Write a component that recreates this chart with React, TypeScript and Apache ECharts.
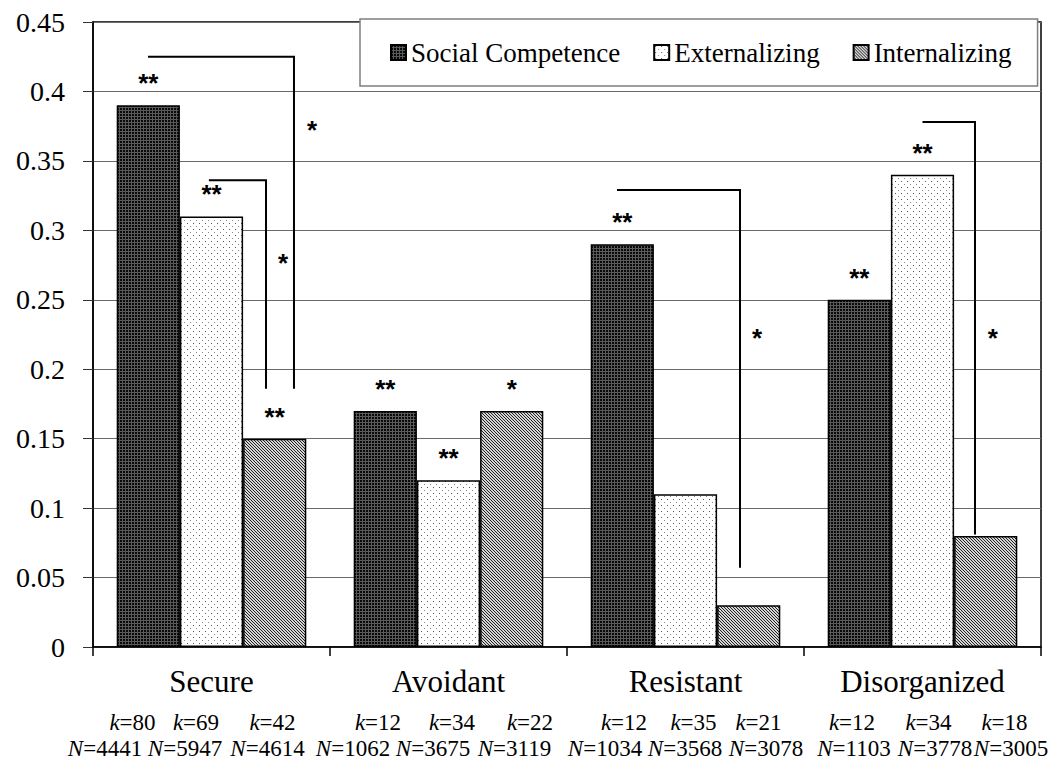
import React, { useEffect, useRef } from "react";
import * as echarts from "echarts";

// ---------- data ----------
const categories = ["Secure", "Avoidant", "Resistant", "Disorganized"];
const seriesNames = ["Social Competence", "Externalizing", "Internalizing"];

const socialCompetence = [0.39, 0.17, 0.29, 0.25];
const externalizing = [0.31, 0.12, 0.11, 0.34];
const internalizing = [0.15, 0.17, 0.03, 0.08];

const socialStars = ["**", "**", "**", "**"];
const externalStars = ["**", "**", "", "**"];
const internalStars = ["**", "*", "", ""];

const socialK = [80, 12, 12, 12];
const externalK = [69, 34, 35, 34];
const internalK = [42, 22, 21, 18];
const socialN = [4441, 1062, 1034, 1103];
const externalN = [5947, 3675, 3568, 3778];
const internalN = [4614, 3119, 3078, 3005];

const yMin = 0;
const yMax = 0.45;
const yInterval = 0.05;

// significance brackets: [category, start (band fraction), end (band fraction), top value, bottom value, mark, mark x (band fraction), mark value]
const brackets: [number, number, number, number, number, string, number, number][] = [
  [0, -0.268, 0.348, 0.425, 0.186, "*", 0.424, 0.376],
  [0, -0.011, 0.23, 0.336, 0.186, "*", 0.302, 0.28],
  [2, -0.289, 0.23, 0.329, 0.057, "*", 0.302, 0.226],
  [3, 0.0, 0.2215, 0.378, 0.081, "*", 0.297, 0.226],
];

// ---------- layout / style ----------
const kOffsets = [
  [-79, -15.5, 61],
  [-70.5, 3.5, 81.5],
  [-61.5, 8, 73],
  [-70.5, 6, 82],
];
const nOffsets = [
  [-106.5, -26.5, 56],
  [-95.5, -15.5, 66],
  [-80.5, -0.5, 80.5],
  [-68.5, 12.5, 88.5],
];

const SERIF = "Liberation Serif";
const SANS = "Liberation Sans";

function makePattern(w: number, h: number, draw: (ctx: CanvasRenderingContext2D) => void) {
  const c = document.createElement("canvas");
  c.width = w;
  c.height = h;
  const ctx = c.getContext("2d") as CanvasRenderingContext2D;
  draw(ctx);
  return { image: c, repeat: "repeat" };
}

export default function App() {
  const ref = useRef<HTMLDivElement>(null);

  useEffect(() => {
    if (!ref.current) return;
    const chart = echarts.init(ref.current, null, { renderer: "svg" });

    const darkPattern = makePattern(3, 3, (ctx) => {
      ctx.fillStyle = "#5a5a5a";
      ctx.fillRect(0, 0, 3, 3);
      ctx.fillStyle = "#0a0a0a";
      ctx.fillRect(0, 0, 2, 2);
    });
    const dotPattern = makePattern(6, 6, (ctx) => {
      ctx.fillStyle = "#ffffff";
      ctx.fillRect(0, 0, 6, 6);
      ctx.fillStyle = "#555555";
      ctx.fillRect(1, 1, 1, 1);
      ctx.fillStyle = "#888888";
      ctx.fillRect(4, 4, 1, 1);
    });
    const hatchPattern = makePattern(3, 3, (ctx) => {
      ctx.fillStyle = "#d4d4d4";
      ctx.fillRect(0, 0, 3, 3);
      ctx.fillStyle = "#222222";
      for (let y = 0; y < 3; y++) {
        ctx.fillRect(y % 3, y, 1, 1);
      }
    });

    const values = [socialCompetence, externalizing, internalizing];
    const stars = [socialStars, externalStars, internalStars];
    const kVals = [socialK, externalK, internalK];
    const nVals = [socialN, externalN, internalN];
    const fills = [darkPattern, dotPattern, hatchPattern];

    const barSeries = values.map((vals, s) => ({
      name: seriesNames[s],
      type: "bar",
      data: vals,
      barGap: "0%",
      barCategoryGap: "20%",
      itemStyle: {
        color: fills[s],
        borderColor: "#000",
        borderWidth: 1.5,
      },
      emphasis: { disabled: true },
      label: {
        show: true,
        position: "top",
        distance: 9,
        formatter: (p: any) => stars[s][p.dataIndex],
        fontFamily: SANS,
        fontWeight: "bold",
        fontSize: 26,
        color: "#000",
      },
      z: 2,
    }));

    const italic = { fontFamily: SERIF, fontSize: 23, fontStyle: "italic", fill: "#000" };
    const upright = { fontFamily: SERIF, fontSize: 23, fill: "#000" };

    const annotationSeries = {
      type: "custom",
      name: "annotations",
      silent: true,
      clip: false,
      z: 5,
      data: categories.map((_, i) => [i, 0]),
      encode: { x: 0, y: 1 },
      renderItem: (params: any, api: any) => {
        const cat = api.value(0);
        const base = api.coord([cat, 0]);
        const band = api.size([1, 0])[0];
        const children: any[] = [];
        for (let s = 0; s < 3; s++) {
          children.push({
            type: "text",
            style: {
              text: `{i|k}{r|=${kVals[s][cat]}}`,
              x: base[0] + kOffsets[cat][s],
              y: base[1] + 75,
              align: "center",
              verticalAlign: "middle",
              rich: { i: italic, r: upright },
            },
          });
          children.push({
            type: "text",
            style: {
              text: `{i|N}{r|=${nVals[s][cat]}}`,
              x: base[0] + nOffsets[cat][s],
              y: base[1] + 101,
              align: "center",
              verticalAlign: "middle",
              rich: { i: italic, r: upright },
            },
          });
        }
        brackets
          .filter((b) => b[0] === cat)
          .forEach((b) => {
            const x1 = base[0] + b[1] * band;
            const x2 = base[0] + b[2] * band;
            const yTop = api.coord([cat, b[3]])[1];
            const yBot = api.coord([cat, b[4]])[1];
            children.push({
              type: "polyline",
              shape: { points: [[x1, yTop], [x2, yTop], [x2, yBot]] },
              style: { stroke: "#000", lineWidth: 2, fill: "none" },
            });
            children.push({
              type: "text",
              style: {
                text: b[5],
                x: base[0] + b[6] * band,
                y: api.coord([cat, b[7]])[1] + 5,
                align: "center",
                verticalAlign: "middle",
                fontFamily: SANS,
                fontWeight: "bold",
                fontSize: 26,
                fill: "#000",
              },
            });
          });
        return { type: "group", children };
      },
    };

    chart.setOption({
      animation: false,
      backgroundColor: "#fff",
      textStyle: { fontFamily: SERIF },
      grid: {
        left: 93,
        right: 19,
        top: 22,
        bottom: 114,
        show: true,
        borderColor: "#000",
        borderWidth: 1.5,
        backgroundColor: "transparent",
      },
      legend: {
        data: seriesNames,
        left: 360,
        top: 19,
        padding: [20, 26, 20, 30],
        itemGap: 33,
        itemWidth: 15,
        itemHeight: 15,
        icon: "rect",
        backgroundColor: "#fff",
        borderColor: "#7f7f7f",
        borderWidth: 1.5,
        borderRadius: 0,
        selectedMode: false,
        textStyle: { fontFamily: SERIF, fontSize: 27, color: "#000" },
      },
      xAxis: {
        type: "category",
        data: categories,
        axisLine: { lineStyle: { color: "#000", width: 1.5 } },
        axisTick: { show: true, length: 9, lineStyle: { color: "#000", width: 1.5 } },
        axisLabel: { fontFamily: SERIF, fontSize: 31, color: "#000", margin: 19 },
        splitLine: { show: false },
      },
      yAxis: {
        type: "value",
        min: yMin,
        max: yMax,
        interval: yInterval,
        axisLine: { show: true, lineStyle: { color: "#000", width: 1.5 } },
        axisTick: { show: true, length: 10, lineStyle: { color: "#333", width: 1 } },
        axisLabel: { fontFamily: SERIF, fontSize: 28, color: "#000", margin: 28 },
        splitLine: { show: true, lineStyle: { color: "#6a6a6a", width: 1 } },
      },
      series: [...barSeries, annotationSeries],
    });

    return () => chart.dispose();
  }, []);

  return (
    <div
      ref={ref}
      style={{ position: "absolute", left: 0, top: 0, width: 1060, height: 761 }}
    />
  );
}
